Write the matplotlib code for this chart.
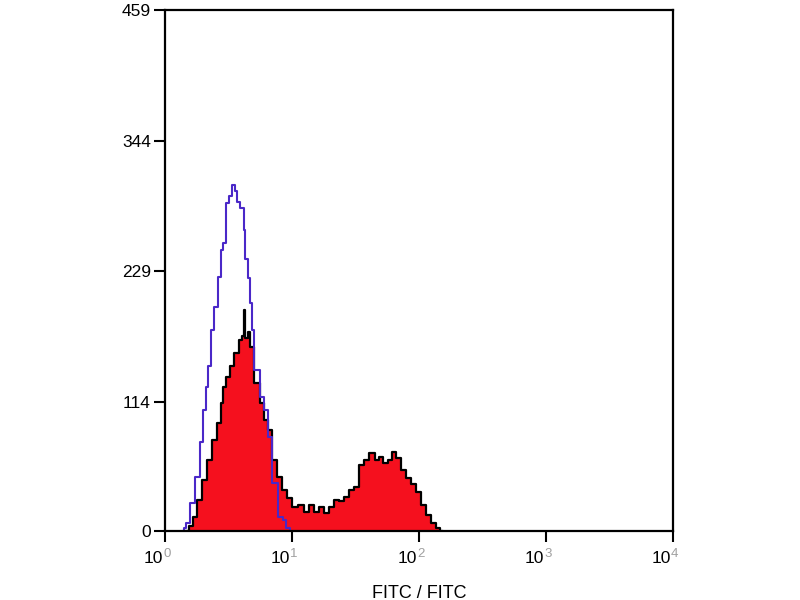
import numpy as np
import matplotlib
matplotlib.use("Agg")
import matplotlib.pyplot as plt

plt.rcParams['font.family'] = ['Liberation Sans', 'DejaVu Sans']

# stained sample (red filled histogram)
red_x = [1.48, 1.629, 1.720, 1.882, 2.059, 2.254, 2.467, 2.700, 2.799, 2.955, 3.119,
         3.352, 3.670, 4.018, 4.15, 4.241, 4.32, 4.642, 4.812, 5.27, 5.87, 6.31, 6.66,
         7.29, 7.98, 8.73, 9.56, 10.46, 11.88, 13.0, 14.2, 15.6, 17.0, 18.7, 20.4, 22.3,
         24.4, 26.8, 29.3, 32.1, 35.1, 38.4, 42.8, 46.9, 50.3, 55.1, 60.3, 63.7, 69.7,
         76.3, 83.5, 91.4, 100, 109, 120, 131, 144, 152]
red_y = [0, 4, 12, 27, 45, 63, 80, 95, 113, 127, 136,
         145, 157, 168, 172, 195, 170, 175, 162, 130, 113, 98, 89,
         63, 48, 36, 29, 21, 23, 17, 23, 17, 21, 16, 21, 27,
         26, 30, 36, 39, 58, 63, 69, 63, 65, 60, 63, 70, 64,
         54, 47, 41, 34, 23, 14, 7, 3, 0]

# isotype control (blue outline)
blue_x = [1.40, 1.435, 1.515, 1.659, 1.815, 1.951, 2.059, 2.135, 2.254, 2.337, 2.557,
          2.700, 2.799, 2.955, 3.119, 3.30, 3.477, 3.60, 3.740, 4.093, 4.241, 4.396,
          4.642, 4.812, 4.898, 5.27, 5.87, 6.31, 6.66, 7.29, 8.42, 8.73, 9.22, 10.09]
blue_y = [0, 3, 7, 25, 48, 78, 107, 127, 145, 177, 197,
          224, 248, 254, 289, 295, 305, 300, 290, 285, 265, 240,
          223, 201, 177, 142, 118, 107, 83, 42, 12, 10, 3, 0]

y_ticks = [0, 114, 229, 344, 459]
x_ticks = [1, 10, 100, 1000, 10000]
x_exp = ['0', '1', '2', '3', '4']

fig = plt.figure(figsize=(8, 6), dpi=100)
ax = fig.add_axes([0.206, 0.115, 0.635, 0.868])

ax.fill_between(red_x, red_y, 0, step='mid', color='#f5101e', linewidth=0)
ax.step(red_x, red_y, where='mid', color='black', linewidth=1.6)
ax.step(blue_x, blue_y, where='mid', color='#4a28c8', linewidth=1.5)

ax.set_xscale('log')
ax.set_xlim(1, 10000)
ax.set_ylim(0, 459)
ax.set_yticks(y_ticks)
ax.set_yticklabels([str(v) for v in y_ticks], fontsize=12.5)
ax.set_xticks(x_ticks)
ax.set_xticklabels([])
ax.minorticks_off()
ax.tick_params(axis='both', direction='out', length=8, width=1.5, color='black')
ax.tick_params(axis='y', pad=2)
for s in ax.spines.values():
    s.set_linewidth(1.6)

# x tick labels: "10" in black with a grey exponent
for t, e in zip(x_ticks, x_exp):
    ax.text(t * 0.97, -0.038, '10', transform=ax.get_xaxis_transform(), ha='right', va='top',
            fontsize=12.5)
    ax.text(t * 0.97, -0.032, e, transform=ax.get_xaxis_transform(), ha='left', va='top',
            fontsize=9.5, color='#a0a0a0')

ax.text(0.5, -0.103, 'FITC / FITC', transform=ax.transAxes, ha='center', va='top',
        fontsize=13)

fig.savefig('out.png', dpi=100)
